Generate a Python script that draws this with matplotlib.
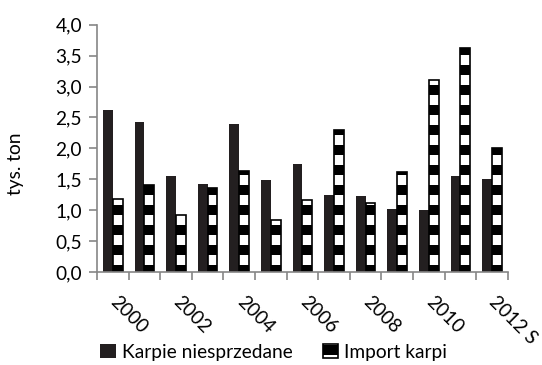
import numpy as np
import matplotlib.pyplot as plt
from matplotlib.ticker import FuncFormatter

plt.rcParams['font.family'] = ['Lato', 'DejaVu Sans']
plt.rcParams['hatch.linewidth'] = 6

# Carp market, thousand tonnes
years = ['2000', '2001', '2002', '2003', '2004', '2005', '2006',
         '2007', '2008', '2009', '2010', '2011', '2012 S']
unsold = [2.62, 2.42, 1.55, 1.42, 2.39, 1.49, 1.74,
          1.25, 1.23, 1.02, 1.01, 1.56, 1.51]
imports = [1.18, 1.40, 0.92, 1.36, 1.64, 0.84, 1.17,
           2.29, 1.12, 1.62, 3.10, 3.63, 2.01]

fig = plt.figure(figsize=(542 / 120, 365 / 120), dpi=120)
ax = fig.add_axes([0.179, 0.255, 0.758, 0.677])

x = np.arange(len(years))
w = 0.31
ax.bar(x - w / 2, unsold, w, color='#231f20', label='Karpie niesprzedane')
ax.bar(x + w / 2, imports, w, color='white', edgecolor='black', hatch='-',
       linewidth=1.0, label='Import karpi')

ax.set_xlim(-0.5, len(years) - 0.5)
ax.set_ylim(0, 4.0)
ax.set_yticks(np.arange(0, 4.01, 0.5))
ax.yaxis.set_major_formatter(FuncFormatter(lambda v, p: f'{v:.1f}'.replace('.', ',')))

# labels on every other year (nudged right of centre), tick marks between categories
ax.set_xticks(x[::2] + 0.2)
ax.set_xticklabels([years[i] for i in x[::2]], rotation=-45, ha='left', va='top',
                   rotation_mode='anchor')
ax.set_xticks(np.arange(-0.5, len(years), 1.0), minor=True)
ax.tick_params(axis='x', which='major', length=0, pad=13, labelsize=11.5)
ax.tick_params(axis='x', which='minor', length=5, color='#868686', width=1)
ax.tick_params(axis='y', length=5, color='#868686', width=1, labelsize=11.5, pad=4)

for side in ['top', 'right']:
    ax.spines[side].set_visible(False)
for side in ['left', 'bottom']:
    ax.spines[side].set_color('#868686')
    ax.spines[side].set_linewidth(1)

fig.text(0.028, 0.55, 'tys. ton', rotation=90, ha='center', va='center', fontsize=11.5)

fig.legend(loc='center', bbox_to_anchor=(0.505, 0.035), ncol=2, frameon=False,
           fontsize=11.5, handlelength=0.8, handleheight=0.8, handletextpad=0.3,
           columnspacing=1.6)

fig.savefig('out.png', dpi=120)
